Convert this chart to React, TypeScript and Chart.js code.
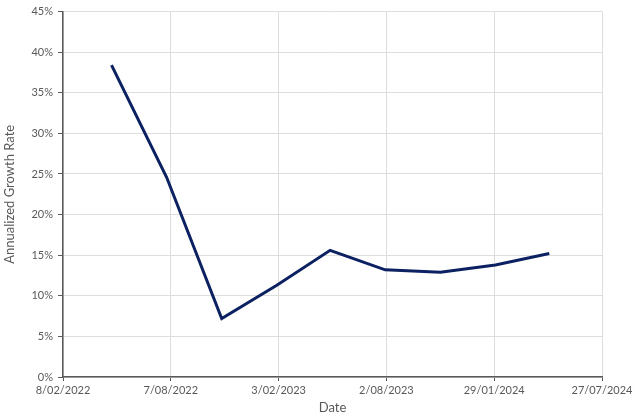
import React, { useEffect, useRef } from "react";
import { Chart, registerables } from "chart.js";

Chart.register(...registerables);

const dates = [
  "2022-04-30",
  "2022-07-31",
  "2022-10-31",
  "2023-01-31",
  "2023-04-30",
  "2023-07-31",
  "2023-10-31",
  "2024-01-31",
  "2024-04-30",
];
const growthRate = [38.4, 24.6, 7.2, 11.3, 15.6, 13.2, 12.9, 13.8, 15.2];

const axisStart = "2022-02-08";
const axisStepDays = 180;
const axisSteps = 5;
const yTicksMax = 45;
const yStep = 5;

const DAY = 86400000;
const toUTC = (s: string) => {
  const [y, m, d] = s.split("-").map(Number);
  return Date.UTC(y, m - 1, d);
};
const startMs = toUTC(axisStart);
const dayOffset = (s: string) => Math.round((toUTC(s) - startMs) / DAY);
const fmtDate = (off: number) => {
  const dt = new Date(startMs + off * DAY);
  const dd = dt.getUTCDate();
  const mm = String(dt.getUTCMonth() + 1).padStart(2, "0");
  return `${dd}/${mm}/${dt.getUTCFullYear()}`;
};

export default function App() {
  const ref = useRef<HTMLCanvasElement>(null);
  useEffect(() => {
    document.body.style.margin = "0";
    const font = { family: "Lato, 'Open Sans', sans-serif", size: 11 };
    const textColor = "#595959";
    const chart = new Chart(ref.current!, {
      type: "line",
      data: {
        datasets: [
          {
            data: dates.map((d, i) => ({ x: dayOffset(d), y: growthRate[i] })),
            borderColor: "#0c2161",
            borderWidth: 3,
            pointRadius: 0,
            tension: 0,
            fill: false,
          },
        ],
      },
      options: {
        animation: false,
        responsive: false,
        maintainAspectRatio: false,
        layout: { padding: { top: 11, right: 38, left: 0, bottom: 0 } },
        plugins: { legend: { display: false }, tooltip: { enabled: false } },
        scales: {
          x: {
            type: "linear",
            min: 0,
            max: axisStepDays * axisSteps,
            border: { color: "#595959", width: 1.5 },
            grid: {
              color: "#dedede",
              tickColor: "#595959",
              tickLength: 4,
              drawTicks: true,
            },
            ticks: {
              stepSize: axisStepDays,
              color: textColor,
              font,
              padding: 3,
              maxRotation: 0,
              callback: (v: any) => fmtDate(Number(v)),
            },
            title: {
              display: true,
              text: "Date",
              color: textColor,
              font: { ...font, size: 13 },
              padding: { top: 2, bottom: 2 },
            },
            afterFit: (s: any) => {
              s.height = 41;
            },
          },
          y: {
            min: 0,
            max: yTicksMax,
            border: { color: "#595959", width: 1.5 },
            grid: {
              color: "#dedede",
              tickColor: "#595959",
              tickLength: 5,
            },
            ticks: {
              stepSize: yStep,
              color: textColor,
              font,
              padding: 5,
              callback: (v: any) => `${v}%`,
            },
            title: {
              display: true,
              text: "Annualized Growth Rate",
              color: textColor,
              font: { ...font, size: 13 },
              padding: { top: 2, bottom: 4 },
            },
            afterFit: (s: any) => {
              s.width = 63;
            },
          },
        },
      },
    });
    return () => chart.destroy();
  }, []);
  return (
    <div style={{ width: 640, height: 418, background: "#fff" }}>
      <canvas ref={ref} width={640} height={418} style={{ display: "block" }} />
    </div>
  );
}
